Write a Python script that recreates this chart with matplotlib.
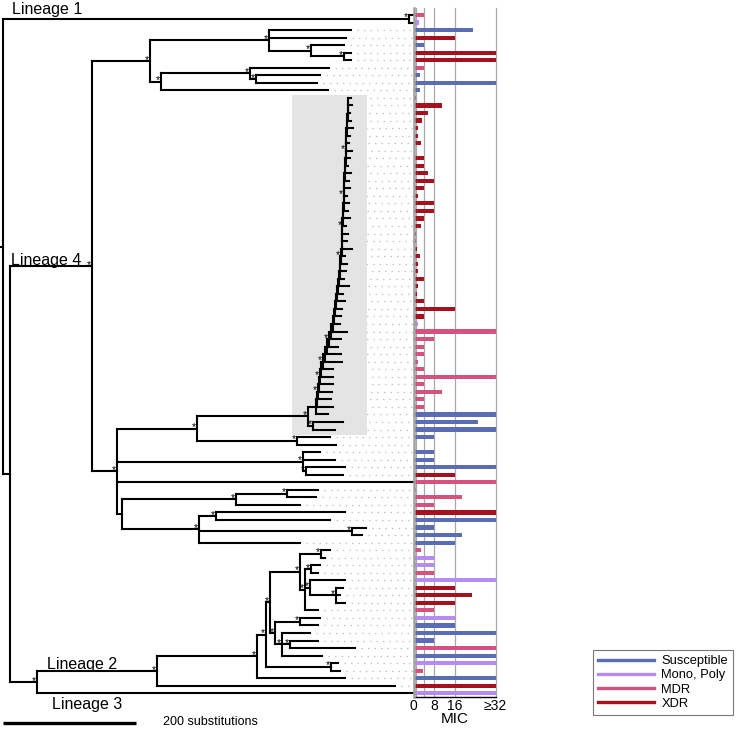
import re
import matplotlib
matplotlib.use("Agg")
import matplotlib.pyplot as plt
from matplotlib.collections import LineCollection
from matplotlib.lines import Line2D
from matplotlib.patches import Rectangle

plt.rcParams["font.family"] = ["Liberation Sans", "DejaVu Sans"]

# ---------------- data ----------------
# Tree clades in a Newick-like form: the number after ':' is the distance of the node
# from the root (substitutions); '*' marks a supported node; upper-case names are sub-clades.
CLADES = {
    "ROOT": "(L1,X):0",
    "L1": "(t0:615,t1:615)*:609",
    "X": "(L4,L23):10.5",
    "L4": "(A,H)*:133.5",
    "A": "(E,B)*:220.5",
    "E": "(t2:522,t3:514.5,F)*:399",
    "F": "(t4:511.5,G)*:462",
    "G": "(t5:522,t6:522)*:511.5",
    "B": "(C,t10:487.5)*:237",
    "C": "(t7:489,D)*:370.5",
    "D": "(t8:475.5,t9:471)*:379.5",
    "H": "(I,J2,t62:615,Q)*:171",
    "I": "(GREY,J)*:291",
    "J": "(t56:490.5,t57:499.5)*:441",
    "J2": "(t58:475.5,t59:498,J3)*:450",
    "J3": "(t60:513,t61:510)*:454.5",
    "Q": "(Q1,Q2):178.5",
    "Q1": "(Q1a,t65:445.5)*:349.5",
    "Q1a": "(t63:472.5,t64:469.5)*:426",
    "Q2": "(Q2a,Q2b,t70:445.5)*:294",
    "Q2a": "(t66:513,t67:490.5)*:319.5",
    "Q2b": "(t68:544.5,t69:538.5)*:523.5",
    "L23": "(L2,t90:615)*:51",
    "L2": "(M1,t89:588)*:231",
    "M1": "(M2,t88:513)*:381",
    "M2": "(M3,N)*:394.5",
    "N": "(t86:502.5,t87:505.5)*:492",
    "M3": "(M5,M6)*:400.5",
    "M5": "(M5a,M5b)*:445.5",
    "M5a": "(t71:490.5,t72:483)*:477",
    "M5b": "(M5c,M5d,t79:472.5)*:453",
    "M5c": "(t73:475.5,t74:472.5)*:462",
    "M5d": "(t75:513,M5e)*:460.5",
    "M5e": "(t76:510,t77:505.5,t78:513)*:499.5",
    "M6": "(M6a,M6b)*:408",
    "M6a": "(t80:475.5,t81:472.5)*:445.5",
    "M6b": "(t82:460.5,M6c,t85:478.5)*:418.5",
    "M6c": "(t83:472.5,t84:528)*:430.5",
}

# Shaded ladder-like XDR/MDR clade (tips t11..t55)
GREY_TIPS = [522, 524, 521, 522, 525, 521, 519, 524, 521, 518, 522, 519, 521, 516, 519,
             518, 521, 515, 518, 516, 524, 513, 516, 515, 512, 519, 510, 513, 509, 507,
             506, 516, 507, 503, 507, 509, 495, 495, 495, 494, 492, 495, 488, 510, 498]
GREY_SPINE = [518, 518, 517, 516, 516, 515, 514, 514, 514, 513, 513, 512, 511, 511, 511,
              510, 510, 509, 508, 508, 508, 507, 506, 505, 504, 502, 501, 500, 498, 496,
              495, 492, 489, 486, 483, 480, 477, 475, 474, 472, 471, 469]
GREY_STARRED = [19, 25, 29, 33, 44, 47, 49, 51]
GREY_PAIR_DEPTH = 465
GREY_ROOT_DEPTH = 457

# MIC bars, top to bottom (one per tip)
MIC = [4, 2, 23, 16, 4, 32, 32, 4, 2.5, 32, 2.5,
       1, 11.2, 5.5, 3.1, 1.7, 1.6, 2.7, 0.5, 4, 4, 5.5, 8, 4, 1.7, 8, 8, 4, 2.7,
       0.8, 0.8, 1.2, 2.5, 1.7, 1.7, 4, 1.7, 1.2, 4, 16, 4,
       1.7, 32, 8, 4, 4, 1.7, 4, 32, 4, 11.2, 4, 4,
       32, 25, 32, 8, 0.5, 8, 8, 32, 16, 32, 1, 18.7, 8, 32, 32, 8, 19, 16,
       2.8, 8, 8, 8, 32, 16, 22.6, 16, 8, 16, 16, 32, 8, 32, 32, 32, 3.8, 32, 32, 32]
RES = ["D", "M", "S", "X", "S", "X", "X", "D", "S", "S", "S",
       "X", "X", "X", "X", "X", "X", "X", "D", "X", "X", "X", "X", "X", "X", "X", "X", "X", "X",
       "X", "X", "X", "X", "X", "X", "X", "X", "X", "X", "X", "X",
       "M", "D", "D", "D", "D", "D", "D", "D", "D", "D", "D", "D",
       "S", "S", "S", "S", "D", "S", "S", "S", "X", "D", "D", "D", "D", "X", "S", "S", "S", "S",
       "D", "M", "M", "D", "M", "X", "X", "X", "D", "M", "S", "S", "S", "D", "S", "M", "D", "S", "X", "M"]
CATEGORIES = ["S", "M", "D", "X"]
CAT_LABELS = ["Susceptible", "Mono, Poly", "MDR", "XDR"]
CAT_COLORS = {"S": "#5a6cb3", "M": "#b68bf2", "D": "#d6517f", "X": "#a5121f"}
MIC_TICKS = [0, 8, 16, 32]
MIC_TICKLABELS = ["0", "8", "16", "\u226532"]
MIC_GRID = [1, 4, 8, 16, 32]
SCALE_SUBS = 200

# ---------------- build tree ----------------
def star(k):
    return "*" if k in GREY_STARRED else ""

g = f"(t11:{GREY_TIPS[0]},t12:{GREY_TIPS[1]}){star(12)}:{GREY_SPINE[0]}"
for k in range(13, 54):
    g = f"({g},t{k}:{GREY_TIPS[k - 11]}){star(k)}:{GREY_SPINE[k - 12]}"
g = f"({g},(t54:{GREY_TIPS[43]},t55:{GREY_TIPS[44]})*:{GREY_PAIR_DEPTH})*:{GREY_ROOT_DEPTH}"
CLADES["GREY"] = g


def expand(name):
    return re.sub(r"[A-Z][A-Za-z0-9]*", lambda m: expand(m.group(0)), CLADES[name])


NEWICK = expand("ROOT")
tok = re.compile(r"([^:,()]*):(-?[0-9.]+)")


def parse(s):
    pos = 0

    def node():
        nonlocal pos
        ch = []
        if s[pos] == "(":
            pos += 1
            ch.append(node())
            while s[pos] == ",":
                pos += 1
                ch.append(node())
            pos += 1
        m = tok.match(s, pos)
        pos = m.end()
        return {"label": m.group(1), "depth": float(m.group(2)), "children": ch}

    return node()


root = parse(NEWICK)
leaves = []


def layout(n):
    if not n["children"]:
        n["y"] = len(leaves)
        leaves.append(n)
    else:
        for c in n["children"]:
            layout(c)
        n["y"] = (n["children"][0]["y"] + n["children"][-1]["y"]) / 2


layout(root)
assert len(leaves) == len(MIC) == len(RES)

segs, stars = [], []


def collect(n):
    if n["children"]:
        ys = [c["y"] for c in n["children"]]
        segs.append([(n["depth"], min(ys)), (n["depth"], max(ys))])
        for c in n["children"]:
            segs.append([(n["depth"], c["y"]), (c["depth"], c["y"])])
            collect(c)
        if n["label"] == "*":
            stars.append((n["depth"], n["y"]))


collect(root)
segs.append([(-3, root["y"]), (0, root["y"])])

# ---------------- figure ----------------
W, Hh = 740, 729
fig = plt.figure(figsize=(W / 100, Hh / 100), dpi=100)

# pixel geometry helpers (layout only)
Y0, DY = 15.0, 7.537
def yi(px):
    return (px - Y0) / DY

X_AX = 413.7
ax = fig.add_axes([0, 0, X_AX / W, 1])
ax.set_xlim(-4.5, (X_AX - 3) * 1.5)
ax.set_ylim(yi(Hh), yi(0))
ax.axis("off")

# shaded clade box
ax.add_patch(Rectangle((433.5, yi(95)), 546 - 433.5, yi(435) - yi(95),
                       facecolor="#e4e4e4", edgecolor="none", zorder=0.5))

# dotted connectors
xmax = ax.get_xlim()[1]
dots = [[(lf["depth"] + 9, lf["y"]), (xmax, lf["y"])] for lf in leaves if lf["depth"] + 9 < xmax]
ax.add_collection(LineCollection(dots, colors="#c2c2c2", linewidths=0.9,
                                 linestyles=[(0, (1.2, 4))], zorder=0.3))

lc = LineCollection(segs, colors="black", linewidths=1.5, zorder=2)
lc.set_capstyle("projecting")
ax.add_collection(lc)

for (x, y) in stars:
    ax.annotate("*", (x, y), xytext=(-0.6, 1.0), textcoords="offset points",
                ha="right", va="center", fontsize=7.5, zorder=3)

# scale bar
ax.plot([0, SCALE_SUBS], [yi(722.7)] * 2, color="black", lw=2.4, solid_capstyle="butt")
fig.text(163 / W, 1 - 722 / Hh, f"{SCALE_SUBS} substitutions", fontsize=9, va="center", ha="left")

# lineage labels
for txt, x, y in [("Lineage 1", 12, 14), ("Lineage 4", 11, 265),
                  ("Lineage 2", 47, 669), ("Lineage 3", 52, 709)]:
    fig.text(x / W, 1 - y / Hh, txt, fontsize=11.5, va="baseline", ha="left")

# ---------------- MIC bars ----------------
axb = fig.add_axes([X_AX / W, (Hh - 697) / Hh, 82 / W, (697 - 8) / Hh])
axb.set_xlim(0, 32)
axb.set_ylim(yi(697), yi(8))
axb.barh([lf["y"] for lf in leaves], MIC, height=0.55,
         color=[CAT_COLORS[c] for c in RES], zorder=2)
for v in MIC_GRID:
    axb.axvline(v, color="#a8a8a8", lw=0.9, zorder=1, clip_on=False)
axb.axvline(0, color="#a0a0a0", lw=1.8, zorder=3, clip_on=False)
for s in ["top", "right", "left"]:
    axb.spines[s].set_visible(False)
axb.spines["bottom"].set_linewidth(1.0)
axb.set_yticks([])
axb.set_xticks(MIC_TICKS)
axb.set_xticklabels(MIC_TICKLABELS, fontsize=10)
axb.tick_params(axis="x", length=0, pad=1.5)
axb.set_xlabel("MIC", fontsize=11, labelpad=-1)
axb.patch.set_alpha(0)

# legend
handles = [Line2D([], [], color=CAT_COLORS[c], lw=2.4) for c in CATEGORIES]
leg = fig.legend(handles, CAT_LABELS, loc="upper left", bbox_to_anchor=(593 / W, 1 - 650 / Hh),
                 fontsize=9.3, frameon=True, fancybox=False, edgecolor="#555555",
                 handlelength=4.3, handletextpad=0.6, labelspacing=0.17, borderpad=0.4,
                 borderaxespad=0)
leg.get_frame().set_linewidth(0.8)

fig.savefig("out.png", dpi=100)
